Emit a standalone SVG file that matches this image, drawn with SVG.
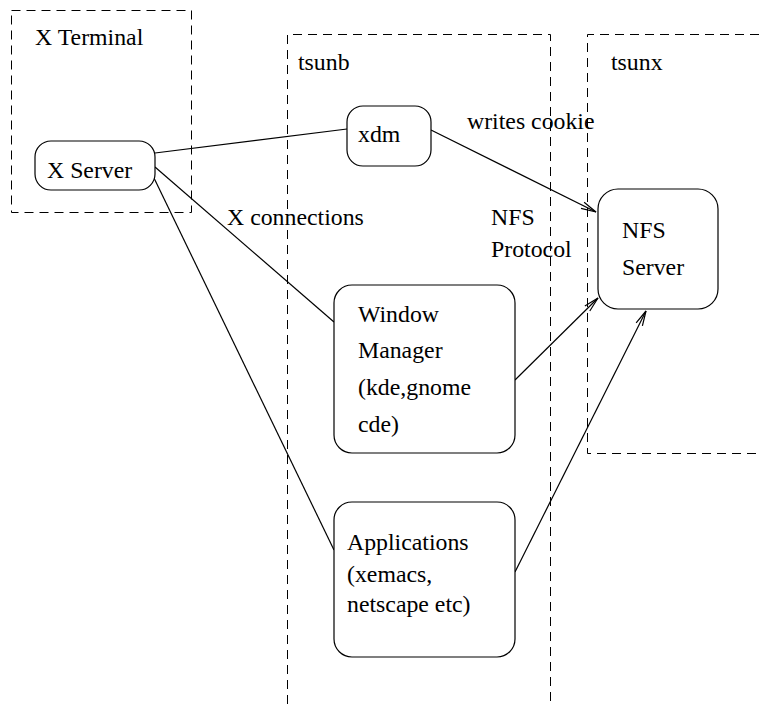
<svg xmlns="http://www.w3.org/2000/svg" width="759" height="704" viewBox="0 0 759 704">
  <style>
    .zone { fill: none; stroke: #000; stroke-width: 1; stroke-dasharray: 9 6; }
    .node { fill: #fff; stroke: #000; stroke-width: 1.2; }
    .link { fill: none; stroke: #000; stroke-width: 1.2; }
    text { font-family: "Liberation Serif", "Times New Roman", serif; font-size: 23.8px; fill: #000; }
  </style>
  <defs>
    <marker id="open-arrow" markerUnits="userSpaceOnUse" markerWidth="20" markerHeight="12" viewBox="-16 -6 20 12" refX="0" refY="0" orient="auto">
      <path d="M-15,-3.5 L0,0 L-15,3.5" fill="none" stroke="#000" stroke-width="1.2"/>
    </marker>
  </defs>

  <rect width="759" height="704" fill="#fff"/>

  <!-- host zones -->
  <g id="zone-xterminal">
    <rect class="zone" x="11.5" y="10.5" width="180" height="202"/>
    <text x="35" y="45">X Terminal</text>
  </g>
  <g id="zone-tsunb">
    <path class="zone" d="M287.5,704 V34.5 H550.5 V704"/>
    <text x="298" y="70">tsunb</text>
  </g>
  <g id="zone-tsunx">
    <path class="zone" d="M759,34.5 H587.5 V453.5 H759"/>
    <text x="611" y="70">tsunx</text>
  </g>

  <!-- connectors -->
  <g id="connectors">
    <line class="link" x1="155" y1="153" x2="347" y2="129"/>
    <line class="link" x1="155" y1="167" x2="334" y2="322"/>
    <line class="link" x1="154" y1="178" x2="334" y2="550"/>
    <line class="link" x1="431" y1="130" x2="596" y2="212" marker-end="url(#open-arrow)"/>
    <line class="link" x1="515" y1="380" x2="598" y2="298" marker-end="url(#open-arrow)"/>
    <line class="link" x1="515" y1="572" x2="646" y2="311" marker-end="url(#open-arrow)"/>
    <text x="227" y="225">X connections</text>
    <text x="467" y="129">writes cookie</text>
    <text x="491" y="225">NFS</text>
    <text x="491" y="257">Protocol</text>
  </g>

  <!-- nodes -->
  <g id="node-xserver">
    <rect class="node" x="35" y="141" width="120" height="49" rx="16" ry="16"/>
    <text x="47" y="178">X Server</text>
  </g>
  <g id="node-xdm">
    <rect class="node" x="347" y="106" width="84" height="60" rx="16" ry="16"/>
    <text x="358" y="142">xdm</text>
  </g>
  <g id="node-nfsserver">
    <rect class="node" x="598" y="189" width="120" height="120" rx="20" ry="20"/>
    <text x="622" y="238">NFS</text>
    <text x="622" y="275">Server</text>
  </g>
  <g id="node-windowmanager">
    <rect class="node" x="334" y="285" width="181" height="168" rx="18" ry="18"/>
    <text x="358" y="322">Window</text>
    <text x="358" y="358">Manager</text>
    <text x="358" y="395">(kde,gnome</text>
    <text x="358" y="432">cde)</text>
  </g>
  <g id="node-applications">
    <rect class="node" x="334" y="502" width="181" height="155" rx="18" ry="18"/>
    <text x="347" y="550">Applications</text>
    <text x="347" y="582">(xemacs,</text>
    <text x="347" y="612">netscape etc)</text>
  </g>
</svg>
